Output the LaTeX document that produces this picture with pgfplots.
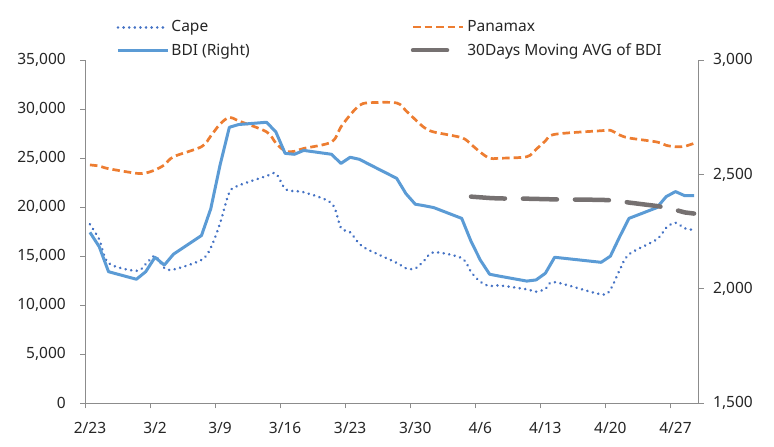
\documentclass[border=0pt]{standalone}
\usepackage{fontspec}
\setmainfont{Noto Sans}
\usepackage{pgfplots}
\pgfplotsset{compat=1.18}
\usepackage{pgfplotstable}

\definecolor{capec}{HTML}{4472C4}
\definecolor{panac}{HTML}{ED7D31}
\definecolor{bdic}{HTML}{5B9BD5}
\definecolor{mac}{HTML}{767171}
\definecolor{axc}{HTML}{8C8C8C}
\definecolor{txt}{HTML}{262626}
\newcommand\fs{\fontsize{15.5bp}{18bp}\selectfont}

% d = calendar day index, 0 = 2/23
\pgfplotstableread{
d cape pana bdi
0 18250 24300 2247
1 16700 24190 2184
2 14300 23920 2075
5 13500 23450 2042
6 14180 23480 2075
7 15030 23790 2138
8 13800 24300 2104
9 13640 25140 2152
12 14620 26160 2233
13 15850 27250 2350
14 18350 28470 2541
15 21500 29160 2706
16 22200 28790 2718
19 23170 27680 2728
20 23430 26540 2686
21 21870 25720 2592
22 21620 25690 2588
23 21520 25980 2605
26 20390 26640 2588
27 17900 28170 2548
28 17430 29400 2575
29 16240 30380 2566
30 15630 30640 2545
33 14320 30620 2483
34 13760 29830 2416
35 13740 28930 2370
36 14580 28090 2363
37 15400 27660 2355
40 14800 27080 2308
41 13400 26400 2208
42 12400 25600 2126
43 11940 24980 2064
44 12020 24980 2056
47 11620 25140 2034
48 11380 25890 2039
49 11650 26740 2068
50 12350 27420 2138
55 11110 27790 2116
56 11620 27830 2143
57 13590 27350 2228
58 15190 27050 2308
61 16720 26640 2355
62 17900 26300 2403
63 18410 26160 2425
64 17840 26200 2407
65 17670 26510 2407
}\data

\pgfplotstableread{
d ma
41 2403
42 2400
43 2397
44 2395
47 2394
48 2393
49 2392
50 2391
55 2389
56 2387
57 2384
58 2377
61 2362
62 2355
63 2345
64 2334
65 2329
}\madata

\tikzset{
  capestyle/.style={capec, line width=2.8bp, line cap=round, dash pattern=on 0.01bp off 5.6bp},
  panastyle/.style={panac, line width=2.7bp, dash pattern=on 7.5bp off 4bp},
  bdistyle/.style={bdic, line width=3bp, line join=round},
  mastyle/.style={mac, line width=4.5bp, line cap=round, dash pattern=on 34bp off 18bp},
}

\pgfplotsset{
  base/.style={
    scale only axis, width=613.4bp, height=343.3bp,
    xmin=-0.5, xmax=65.5, clip=false,
    tick align=outside, major tick length=5bp,
    axis line style={axc, line width=0.8bp},
    tick style={axc, line width=0.8bp},
    tick label style={font=\fs, text=txt},
    scaled y ticks=false,
    /pgf/number format/1000 sep={,},
    /pgf/number format/assume math mode=true,
  }
}

\begin{document}
\begin{tikzpicture}
\begin{axis}[base, name=main,
  ymin=0, ymax=35000,
  axis x line*=bottom, axis y line*=left,
  ytick={0,5000,...,35000},
  yticklabel style={xshift=-11bp},
  xtick={-0.5,6.5,...,62.5},
  xticklabels={2/23,3/2,3/9,3/16,3/23,3/30,4/6,4/13,4/20,4/27},
  xticklabel style={xshift=4.645bp, yshift=-10bp},
]
\addplot[capestyle, smooth, tension=0.5] table[x=d,y=cape]{\data};
\addplot[panastyle, smooth, tension=0.5] table[x=d,y=pana]{\data};
\end{axis}
\begin{axis}[base,
  ymin=1500, ymax=3000,
  axis y line*=right, axis x line=none,
  ytick={1500,2000,2500,3000},
  yticklabel style={xshift=6bp},
  legend columns=2,
  legend image code/.code={\draw[#1] (0bp,0bp) -- (50bp,0bp);},
  legend style={draw=none, fill=none, font=\fs, text=txt,
    at={(0,1)}, anchor=south west, xshift=28bp, yshift=-1bp,
    row sep=6bp,
    /tikz/every even column/.append style={column sep=159bp}},
  legend cell align=left,
]
\addlegendimage{capestyle}\addlegendentry{Cape}
\addlegendimage{panastyle}\addlegendentry{Panamax}
\addplot[bdistyle] table[x=d,y=bdi]{\data};
\addlegendentry{BDI (Right)}
\addplot[mastyle] table[x=d,y=ma]{\madata};
\addlegendentry{30Days Moving AVG of BDI}
\end{axis}
\path ([shift={(-85.3bp,-43.7bp)}]main.south west) rectangle ([shift={(75.3bp,60bp)}]main.north east);
\end{tikzpicture}
\end{document}
